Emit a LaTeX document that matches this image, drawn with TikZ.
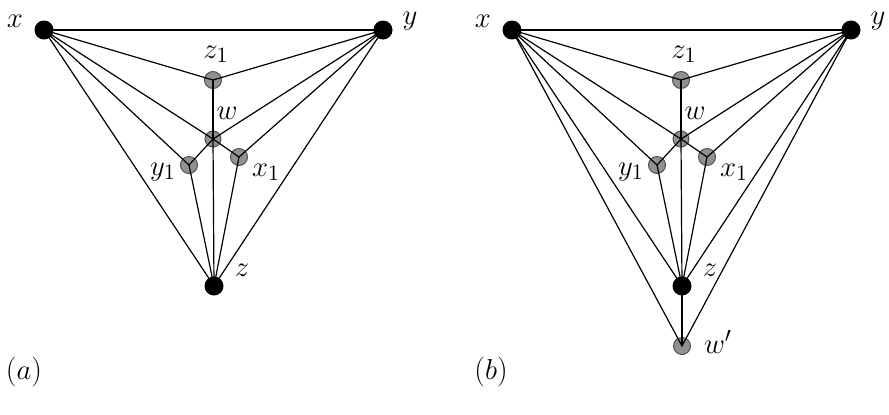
\documentclass[tikz,border=0pt]{standalone}
\usepackage{tikz}
\usetikzlibrary{positioning}
\definecolor{vtxgray}{RGB}{145,145,145}
\definecolor{rimgray}{RGB}{80,80,80}

\begin{document}
\begin{tikzpicture}[
  x=0.5pt,y=-0.5pt,
  bvert/.style={circle,fill=black,inner sep=0pt,minimum size=9.5pt},
  gvert/.style={circle,fill=vtxgray,draw=rimgray,line width=0.5pt,inner sep=0pt,minimum size=8.5pt},
  wvert/.style={gvert,minimum size=8pt},
  edge/.style={line width=0.6pt},
  lab/.style={font=\fontsize{15}{17}\selectfont,inner sep=0pt}
]
  \useasboundingbox (0,0) rectangle (889,414);
  \foreach \p/\dx in {a/0,b/468}{
    \begin{scope}[xshift=\dx*0.5pt]
      % vertices
      \node[bvert] (x\p) at (44,30) {};
      \node[bvert] (y\p) at (383,30) {};
      \node[bvert] (z\p) at (214,286) {};
      \node[gvert] (zz\p) at (213,80) {};
      \node[wvert] (w\p) at (213,139) {};
      \node[gvert] (yy\p) at (189,165) {};
      \node[gvert] (xx\p) at (239,157) {};
      % edges
      \draw[edge] (x\p.center) -- (y\p.center);
      \draw[edge] (x\p.center) -- (zz\p.center) -- (y\p.center);
      \draw[edge] (zz\p.center) -- (w\p.center);
      \draw[edge] (x\p.center) -- (w\p.center) -- (y\p.center);
      \draw[edge] (x\p.center) -- (yy\p.center) -- (z\p.center);
      \draw[edge] (y\p.center) -- (xx\p.center) -- (z\p.center);
      \draw[edge] (yy\p.center) -- (w\p.center) -- (xx\p.center);
      \draw[edge] (x\p.center) -- (z\p.center) -- (y\p.center);
      \draw[edge] (w\p.center) -- (z\p.center);
      % labels
      \node[lab] (lx\p) at (15,21) {$x$};
      \node[lab] (ly\p) at (410,21) {$y$};
      \node[lab] (lzz\p) at (216,54) {$z_1$};
      \node[lab] (lw\p) at (227,113) {$w$};
      \node[lab] (lyy\p) at (163,172) {$y_1$};
      \node[lab] (lxx\p) at (266,172) {$x_1$};
      \node[lab] (lz\p) at (242,270) {$z$};
    \end{scope}
  }
  % extra vertex of (b)
  \node[gvert] (wpb) at (682,346) {};
  \draw[edge] (xb.center) -- (wpb.center) -- (yb.center);
  \draw[edge] (zb.center) -- (wpb.center);
  \node[lab] (lwpb) at (718,342) {$w'$};
  % captions
  \node[lab] (capa) at (24,372) {($a$)};
  \node[lab] (capb) at (491,372) {($b$)};
\end{tikzpicture}
\end{document}
